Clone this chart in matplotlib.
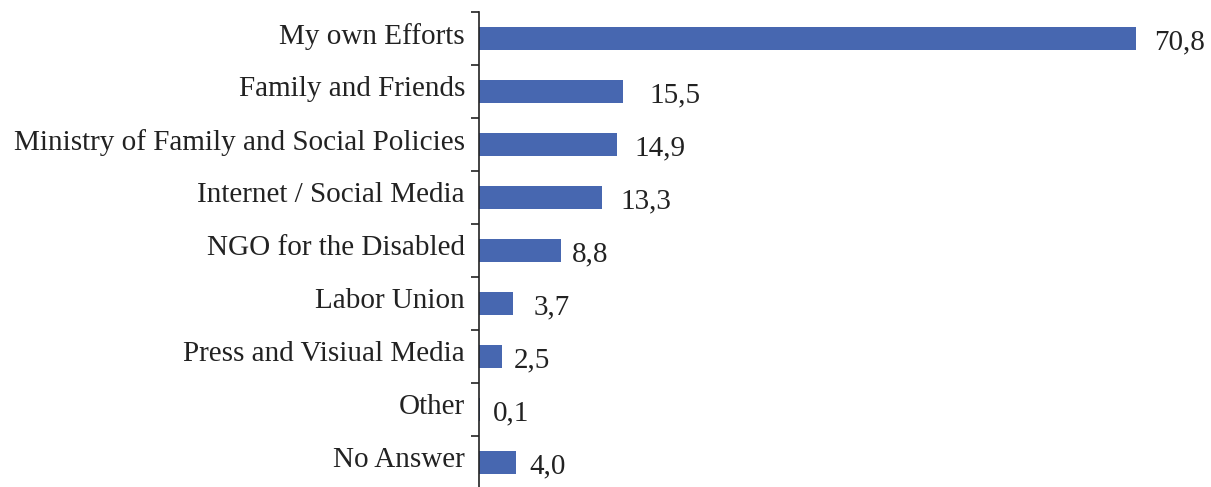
import numpy as np
import matplotlib.pyplot as plt
from matplotlib.ticker import FixedLocator

categories = [
    'My own Efforts', 'Family and Friends', 'Ministry of Family and Social Policies',
    'Internet / Social Media', 'NGO for the Disabled', 'Labor Union',
    'Press and Visiual Media', 'Other', 'No Answer',
]
values = [70.8, 15.5, 14.9, 13.3, 8.8, 3.7, 2.5, 0.1, 4.0]
value_labels = ['70,8', '15,5', '14,9', '13,3', '8,8', '3,7', '2,5', '0,1', '4,0']

# horizontal gap (px) between bar end and its value label, as in the source
label_gap_px = [18, 27, 17, 18, 11, 20, 12, 13, 13]

plt.rcParams['font.family'] = ['Liberation Serif', 'DejaVu Serif']

W, H = 1211, 487
fig = plt.figure(figsize=(W / 100, H / 100), dpi=100)
left_px, top_px, step_px = 479, 12, 53.0
n = len(categories)
bottom_px = top_px + n * step_px
ax = fig.add_axes([left_px / W, 1 - bottom_px / H, (1205 - left_px) / W, (bottom_px - top_px) / H])

y = np.arange(n)
ax.barh(y, values, height=0.43, color='#4767B0')
ax.set_ylim(n - 0.5, -0.5)
ax.set_xlim(0, (1205 - left_px) / 9.28)

# value labels to the right of each bar
for yi, v, lab, gap in zip(y, values, value_labels, label_gap_px):
    ax.annotate(lab, (v, yi), xytext=(gap, -1), textcoords='offset pixels',
                ha='left', va='center_baseline', fontsize=21, color='#222222')

# category labels, sitting a little above the bar centre
for yi, cat in zip(y, categories):
    ax.annotate(cat, (0, yi), xytext=(-14, 5), textcoords='offset pixels',
                ha='right', va='center_baseline', fontsize=21, color='#222222',
                annotation_clip=False)

ax.set_yticks([])
ax.yaxis.set_minor_locator(FixedLocator(np.arange(-0.5, n, 1)))
ax.tick_params(axis='y', which='minor', length=6, width=1.2, color='#222222')
ax.tick_params(axis='x', which='both', length=0, labelbottom=False)
for s in ['top', 'right', 'bottom']:
    ax.spines[s].set_visible(False)
ax.spines['left'].set_linewidth(1.2)
ax.spines['left'].set_color('#222222')

fig.savefig('out.png', dpi=100)
